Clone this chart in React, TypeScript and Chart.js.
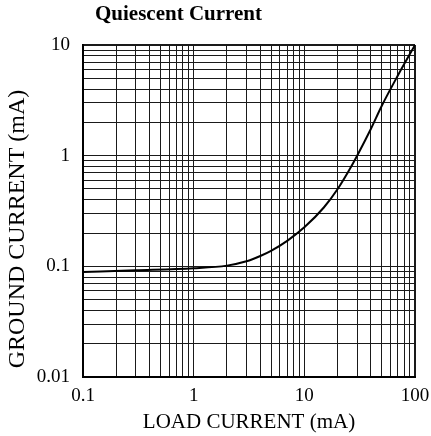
import React, { useEffect, useRef } from 'react';
import { Chart, registerables } from 'chart.js';

Chart.register(...registerables);

const loadCurrent = [0.1, 0.3, 1, 2, 3, 4, 5, 7, 10, 15, 20, 25, 30, 40, 50, 70, 100];
const groundCurrent = [0.089, 0.092, 0.096, 0.1015, 0.111, 0.124, 0.138, 0.17, 0.225, 0.34, 0.5, 0.72, 1.0, 1.75, 2.81, 5.3, 10];
const xTickLabels = ['0.1', '1', '10', '100'];
const yTickLabels = ['0.01', '0.1', '1', '10'];
const chartTitle = 'Quiescent Current';
const xTitle = 'LOAD CURRENT (mA)';
const yTitle = 'GROUND CURRENT (mA)';

const FONT = "'Liberation Serif', 'Times New Roman', serif";

function logGrid(labels: string[]) {
  const majors = labels.map(Number);
  const out: number[] = [];
  for (let i = 0; i < majors.length - 1; i++) {
    for (let k = 1; k <= 9; k++) out.push(+(majors[i] * k).toPrecision(6));
  }
  out.push(majors[majors.length - 1]);
  return out;
}

const titlePlugin = {
  id: 'mainTitle',
  afterDraw(chart: any) {
    const ctx = chart.ctx;
    ctx.save();
    ctx.font = `bold 21px ${FONT}`;
    ctx.fillStyle = '#000';
    ctx.textAlign = 'left';
    ctx.textBaseline = 'alphabetic';
    ctx.fillText(chartTitle, 95, 20);
    ctx.restore();
    ctx.save();
    ctx.font = `24px ${FONT}`;
    ctx.fillStyle = '#000';
    ctx.translate(18, 229);
    ctx.rotate(-Math.PI / 2);
    ctx.textAlign = 'center';
    ctx.textBaseline = 'middle';
    ctx.fillText(yTitle, 0, 0);
    ctx.restore();
  },
};

export default function App() {
  const ref = useRef<HTMLCanvasElement>(null);
  useEffect(() => {
    document.body.style.margin = '0';
    const xGrid = logGrid(xTickLabels);
    const yGrid = logGrid(yTickLabels);
    const xMin = Number(xTickLabels[0]);
    const xMax = Number(xTickLabels[xTickLabels.length - 1]);
    const yMin = Number(yTickLabels[0]);
    const yMax = Number(yTickLabels[yTickLabels.length - 1]);
    const gridColor = '#1a1a1a';
    const chart = new Chart(ref.current!, {
      type: 'line',
      data: {
        datasets: [
          {
            data: loadCurrent.map((x, i) => ({ x, y: groundCurrent[i] })),
            borderColor: '#000',
            borderWidth: 2,
            pointRadius: 0,
            cubicInterpolationMode: 'monotone',
            fill: false,
          },
        ],
      },
      options: {
        animation: false,
        responsive: false,
        layout: { padding: { top: 45, right: 16, left: 0, bottom: 0 } },
        plugins: { legend: { display: false }, tooltip: { enabled: false }, title: { display: false } },
        scales: {
          x: {
            type: 'logarithmic',
            min: xMin,
            max: xMax,
            afterBuildTicks: (s: any) => { s.ticks = xGrid.map((v) => ({ value: v })); },
            afterFit: (s: any) => { s.height = 59; s.paddingLeft = 0; s.paddingRight = 0; },
            grid: {
              color: gridColor,
              lineWidth: (c: any) => (c.tick && c.tick.value === xMax ? 2 : 1),
              drawTicks: false,
            },
            border: { display: true, color: '#000', width: 2 },
            ticks: {
              autoSkip: false,
              maxRotation: 0,
              padding: 8,
              color: '#000',
              font: { family: FONT, size: 19 },
              callback: (v: any) => {
                const i = xTickLabels.map(Number).findIndex((m) => Math.abs(m - v) < 1e-9 * Math.max(1, m));
                return i >= 0 ? xTickLabels[i] : '';
              },
            },
            title: {
              display: true,
              text: xTitle,
              color: '#000',
              font: { family: FONT, size: 21 },
              padding: { top: 0, bottom: 1 },
            },
          },
          y: {
            type: 'logarithmic',
            min: yMin,
            max: yMax,
            afterBuildTicks: (s: any) => { s.ticks = yGrid.map((v) => ({ value: v })); },
            afterFit: (s: any) => { s.width = 83; s.paddingTop = 0; s.paddingBottom = 0; },
            grid: {
              color: gridColor,
              lineWidth: (c: any) => (c.tick && c.tick.value === yMax ? 2 : 1),
              drawTicks: false,
            },
            border: { display: true, color: '#000', width: 2 },
            ticks: {
              autoSkip: false,
              padding: 13,
              color: '#000',
              font: { family: FONT, size: 19 },
              callback: (v: any) => {
                const i = yTickLabels.map(Number).findIndex((m) => Math.abs(m - v) < 1e-9 * Math.max(1, m));
                return i >= 0 ? yTickLabels[i] : '';
              },
            },
            title: { display: false },
          },
        },
      },
      plugins: [titlePlugin],
    } as any);
    return () => chart.destroy();
  }, []);
  return <canvas ref={ref} width={431} height={436} />;
}
